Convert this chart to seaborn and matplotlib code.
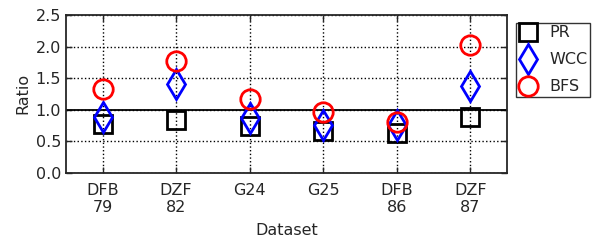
import matplotlib
matplotlib.use("Agg")
import matplotlib.pyplot as plt
import seaborn as sns

datasets = ["DFB\n79", "DZF\n82", "G24", "G25", "DFB\n86", "DZF\n87"]
pr = [0.78, 0.84, 0.74, 0.66, 0.63, 0.89]
wcc = [0.88, 1.40, 0.87, 0.75, 0.75, 1.38]
bfs = [1.33, 1.77, 1.17, 0.96, 0.80, 2.02]

sns.set_style("ticks")
plt.rcParams["font.family"] = ["DejaVu Sans"]

fig = plt.figure(figsize=(5.93, 2.41), dpi=100)
ax = fig.add_axes([0.111, 0.283, 0.744, 0.655])

series = [("PR", pr, "s", "black", 13),
          ("WCC", wcc, "d", "blue", 15),
          ("BFS", bfs, "o", "red", 14)]
for name, vals, mk, col, ms in series:
    sns.lineplot(x=datasets, y=vals, ax=ax, sort=False, label=name,
                 linestyle="", marker=mk, markersize=ms, color=col,
                 markerfacecolor="none", markeredgecolor=col, markeredgewidth=2)

ax.axhline(1.0, color="black", lw=1.3, zorder=1)
ax.set_xlim(-0.5, 5.5)
ax.set_ylim(0, 2.5)
ax.set_yticks([0, 0.5, 1.0, 1.5, 2.0, 2.5])
ax.grid(True, color="black", linestyle=":", linewidth=1)
ax.tick_params(direction="in", top=True, right=True, length=4, labelsize=11.5,
               width=1)
ax.tick_params(axis="x", pad=7)
for s in ax.spines.values():
    s.set_linewidth(1.3)
ax.set_xlabel("Dataset", fontsize=11.5, labelpad=6)
ax.set_ylabel("Ratio", fontsize=11.5)

ax.legend(loc="upper left", bbox_to_anchor=(1.02, 0.95), fontsize=11.5,
          frameon=True, fancybox=False, edgecolor="black", borderpad=0.15,
          handletextpad=0.75, handlelength=1.2, labelspacing=0.75,
          numpoints=1, borderaxespad=0)

fig.savefig("out.png", dpi=100)
